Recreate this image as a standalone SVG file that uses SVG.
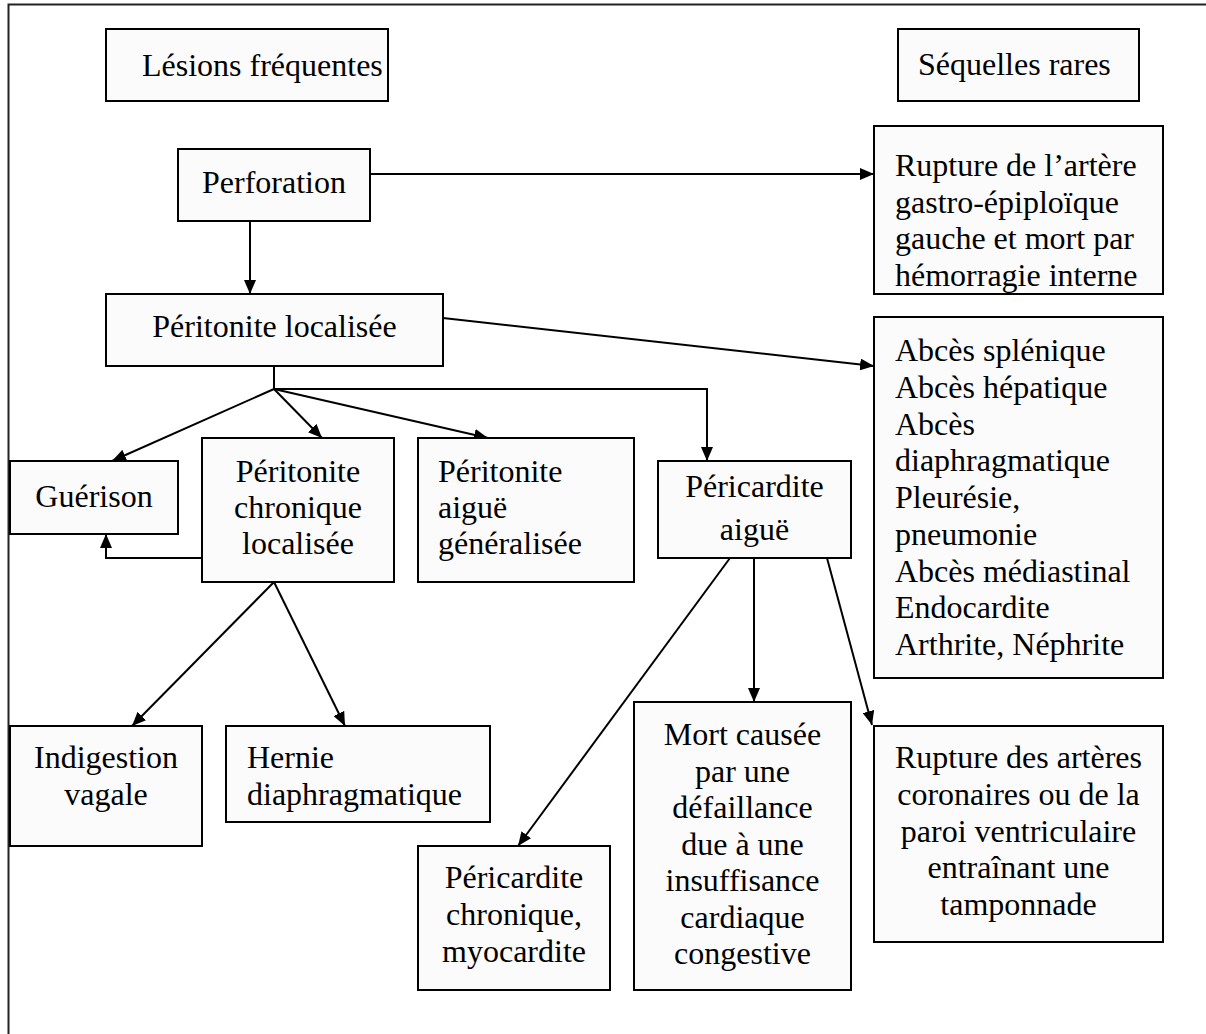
<svg xmlns="http://www.w3.org/2000/svg" width="1206" height="1034" viewBox="0 0 1206 1034" font-family="'Liberation Serif', 'DejaVu Serif', serif" font-size="32">
  <defs>
    <marker id="arrow" viewBox="0 0 14 12" markerWidth="14" markerHeight="12" refX="14" refY="6" orient="auto" markerUnits="userSpaceOnUse">
      <path d="M0,0 L14,6 L0,12 z" fill="#000"/>
    </marker>
  </defs>
  <style>
    .box { fill: #fbfbfb; stroke: #000; stroke-width: 2; }
    .frame { fill: none; stroke: #222; stroke-width: 2; }
    .conn { fill: none; stroke: #000; stroke-width: 2; }
    .arr { marker-end: url(#arrow); }
    .t { font-family: 'Liberation Serif', 'DejaVu Serif', serif; font-size: 32px; fill: #000; }
    .c { text-anchor: middle; }
  </style>

  <rect width="1206" height="1034" fill="#fff"/>
  <!-- outer frame (right and bottom edges fall outside the page) -->
  <rect class="frame" x="8.5" y="4.5" width="1300" height="1100"/>

  <!-- connectors -->
  <g id="connectors">
    <line class="conn arr" x1="370" y1="174" x2="874" y2="174"/>
    <line class="conn arr" x1="250" y1="221" x2="250" y2="294"/>
    <line class="conn arr" x1="443" y1="318" x2="874" y2="366"/>
    <polyline class="conn" points="274,366 274,389"/>
    <polyline class="conn arr" points="274,389 707,389 707,461"/>
    <line class="conn arr" x1="274" y1="389" x2="112" y2="461"/>
    <line class="conn arr" x1="274" y1="389" x2="322" y2="438"/>
    <line class="conn arr" x1="274" y1="389" x2="488" y2="438"/>
    <polyline class="conn arr" points="202,558 106,558 106,534"/>
    <line class="conn arr" x1="274" y1="582" x2="132" y2="726"/>
    <line class="conn arr" x1="274" y1="582" x2="345" y2="726"/>
    <line class="conn arr" x1="730" y1="558" x2="518" y2="846"/>
    <line class="conn arr" x1="754" y1="558" x2="754" y2="702"/>
    <line class="conn arr" x1="827" y1="558" x2="872" y2="725"/>
  </g>

  <g id="lesions-frequentes">
    <rect class="box" x="106" y="29" width="282" height="72"/>
    <text class="t" x="142" y="76">Lésions fréquentes</text>
  </g>

  <g id="sequelles-rares">
    <rect class="box" x="898" y="29" width="241" height="72"/>
    <text class="t" x="918" y="75">Séquelles rares</text>
  </g>

  <g id="perforation">
    <rect class="box" x="178" y="149" width="192" height="72"/>
    <text class="t c" x="274" y="193">Perforation</text>
  </g>

  <g id="rupture-artere">
    <rect class="box" x="874" y="126" width="289" height="168"/>
    <text class="t" x="895" y="176">Rupture de l’artère</text>
    <text class="t" x="895" y="212.7">gastro-épiploïque</text>
    <text class="t" x="895" y="249.4">gauche et mort par</text>
    <text class="t" x="895" y="286">hémorragie interne</text>
  </g>

  <g id="peritonite-localisee">
    <rect class="box" x="106" y="294" width="337" height="72"/>
    <text class="t c" x="274.5" y="337">Péritonite localisée</text>
  </g>

  <g id="abces">
    <rect class="box" x="874" y="317" width="289" height="361"/>
    <text class="t" x="895" y="361">Abcès splénique</text>
    <text class="t" x="895" y="397.8">Abcès hépatique</text>
    <text class="t" x="895" y="434.5">Abcès</text>
    <text class="t" x="895" y="471.3">diaphragmatique</text>
    <text class="t" x="895" y="508">Pleurésie,</text>
    <text class="t" x="895" y="544.8">pneumonie</text>
    <text class="t" x="895" y="581.5">Abcès médiastinal</text>
    <text class="t" x="895" y="618.3">Endocardite</text>
    <text class="t" x="895" y="655">Arthrite, Néphrite</text>
  </g>

  <g id="guerison">
    <rect class="box" x="10" y="461" width="168" height="73"/>
    <text class="t c" x="94" y="507">Guérison</text>
  </g>

  <g id="peritonite-chronique">
    <rect class="box" x="202" y="438" width="192" height="144"/>
    <text class="t c" x="298" y="482">Péritonite</text>
    <text class="t c" x="298" y="518">chronique</text>
    <text class="t c" x="298" y="554">localisée</text>
  </g>

  <g id="peritonite-aigue">
    <rect class="box" x="418" y="438" width="216" height="144"/>
    <text class="t" x="438" y="482">Péritonite</text>
    <text class="t" x="438" y="518">aiguë</text>
    <text class="t" x="438" y="554">généralisée</text>
  </g>

  <g id="pericardite-aigue">
    <rect class="box" x="658" y="461" width="193" height="97"/>
    <text class="t c" x="754.5" y="497">Péricardite</text>
    <text class="t c" x="754.5" y="540">aiguë</text>
  </g>

  <g id="indigestion-vagale">
    <rect class="box" x="10" y="726" width="192" height="120"/>
    <text class="t c" x="106" y="768">Indigestion</text>
    <text class="t c" x="106" y="805">vagale</text>
  </g>

  <g id="hernie">
    <rect class="box" x="226" y="726" width="264" height="96"/>
    <text class="t" x="247" y="768">Hernie</text>
    <text class="t" x="247" y="805">diaphragmatique</text>
  </g>

  <g id="pericardite-chronique">
    <rect class="box" x="418" y="846" width="192" height="144"/>
    <text class="t c" x="514" y="888">Péricardite</text>
    <text class="t c" x="514" y="925">chronique,</text>
    <text class="t c" x="514" y="962">myocardite</text>
  </g>

  <g id="mort-insuffisance">
    <rect class="box" x="634" y="702" width="217" height="288"/>
    <text class="t c" x="742.5" y="745">Mort causée</text>
    <text class="t c" x="742.5" y="781.5">par une</text>
    <text class="t c" x="742.5" y="818">défaillance</text>
    <text class="t c" x="742.5" y="854.5">due à une</text>
    <text class="t c" x="742.5" y="891">insuffisance</text>
    <text class="t c" x="742.5" y="927.5">cardiaque</text>
    <text class="t c" x="742.5" y="964">congestive</text>
  </g>

  <g id="rupture-coronaires">
    <rect class="box" x="874" y="726" width="289" height="216"/>
    <text class="t c" x="1018.5" y="768">Rupture des artères</text>
    <text class="t c" x="1018.5" y="805">coronaires ou de la</text>
    <text class="t c" x="1018.5" y="841.5">paroi ventriculaire</text>
    <text class="t c" x="1018.5" y="878">entraînant une</text>
    <text class="t c" x="1018.5" y="914.5">tamponnade</text>
  </g>
</svg>
